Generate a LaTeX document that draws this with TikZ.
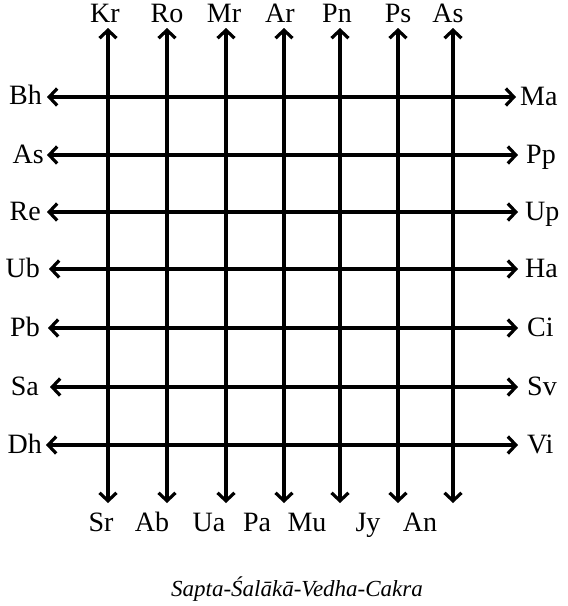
\documentclass[tikz,border=0pt]{standalone}
\usepackage{fontspec}
\setmainfont{Liberation Serif}
\usetikzlibrary{arrows.meta}

\begin{document}
\begin{tikzpicture}[x=1pt, y=-1pt]
    % Define styles
    \tikzstyle{rod}=[line width=3.2pt, >={Straight Barb[length=8pt, width=17pt]}, <->]
    \tikzstyle{rodname}=[font=\fontsize{28}{32}\selectfont, inner sep=0pt]
    \tikzstyle{knot}=[fill=black]

    \useasboundingbox (0,0) rectangle (568,606);

    % Top ends of the vertical rods
    \node[rodname, anchor=base] (Kr) at (105,22) {Kr};
    \node[rodname, anchor=base] (Ro) at (167,22) {Ro};
    \node[rodname, anchor=base] (Mr) at (224,22) {Mr};
    \node[rodname, anchor=base] (Ar) at (280,22) {Ar};
    \node[rodname, anchor=base] (Pn) at (337,22) {Pn};
    \node[rodname, anchor=base] (Ps) at (398,22) {Ps};
    \node[rodname, anchor=base] (As-top) at (448,22) {As};

    \coordinate (Kr-end) at (108,28);
    \coordinate (Ro-end) at (167,28);
    \coordinate (Mr-end) at (226,28);
    \coordinate (Ar-end) at (284,28);
    \coordinate (Pn-end) at (340,28);
    \coordinate (Ps-end) at (398,28);
    \coordinate (As-top-end) at (453,28);

    % Bottom ends of the vertical rods
    \node[rodname, anchor=base] (Sr) at (101,531) {Sr};
    \node[rodname, anchor=base] (Ab) at (152,531) {Ab};
    \node[rodname, anchor=base] (Ua) at (209,531) {Ua};
    \node[rodname, anchor=base] (Pa) at (257,531) {Pa};
    \node[rodname, anchor=base] (Mu) at (307,531) {Mu};
    \node[rodname, anchor=base] (Jy) at (368,531) {Jy};
    \node[rodname, anchor=base] (An) at (420,531) {An};

    \coordinate (Sr-end) at (108,503);
    \coordinate (Ab-end) at (167,503);
    \coordinate (Ua-end) at (226,503);
    \coordinate (Pa-end) at (284,503);
    \coordinate (Mu-end) at (340,503);
    \coordinate (Jy-end) at (398,503);
    \coordinate (An-end) at (453,503);

    % Left ends of the horizontal rods
    \node[rodname, anchor=base east] (Bh) at (42,104) {Bh};
    \node[rodname, anchor=base east] (As-left) at (44,163) {As};
    \node[rodname, anchor=base east] (Re) at (41,220) {Re};
    \node[rodname, anchor=base east] (Ub) at (40,277) {Ub};
    \node[rodname, anchor=base east] (Pb) at (40,336) {Pb};
    \node[rodname, anchor=base east] (Sa) at (39,395) {Sa};
    \node[rodname, anchor=base east] (Dh) at (42,453) {Dh};

    \coordinate (Bh-end) at (47,97);
    \coordinate (As-left-end) at (47,155);
    \coordinate (Re-end) at (47,212);
    \coordinate (Ub-end) at (49,269);
    \coordinate (Pb-end) at (48,328);
    \coordinate (Sa-end) at (50,387);
    \coordinate (Dh-end) at (46,445);

    % Right ends of the horizontal rods
    \node[rodname, anchor=base west] (Ma) at (520,105) {Ma};
    \node[rodname, anchor=base west] (Pp) at (526,163) {Pp};
    \node[rodname, anchor=base west] (Up) at (525,220) {Up};
    \node[rodname, anchor=base west] (Ha) at (525,277) {Ha};
    \node[rodname, anchor=base west] (Ci) at (527,336) {Ci};
    \node[rodname, anchor=base west] (Sv) at (527,395) {Sv};
    \node[rodname, anchor=base west] (Vi) at (527,453) {Vi};

    \coordinate (Ma-end) at (516,97);
    \coordinate (Pp-end) at (518,155);
    \coordinate (Up-end) at (518,212);
    \coordinate (Ha-end) at (518,269);
    \coordinate (Ci-end) at (518,328);
    \coordinate (Sv-end) at (518,387);
    \coordinate (Vi-end) at (518,445);

    % Vertical rods
    \draw[rod] (Kr-end) -- (Sr-end);
    \draw[rod] (Ro-end) -- (Ab-end);
    \draw[rod] (Mr-end) -- (Ua-end);
    \draw[rod] (Ar-end) -- (Pa-end);
    \draw[rod] (Pn-end) -- (Mu-end);
    \draw[rod] (Ps-end) -- (Jy-end);
    \draw[rod] (As-top-end) -- (An-end);

    % Horizontal rods
    \draw[rod] (Bh-end) -- (Ma-end);
    \draw[rod] (As-left-end) -- (Pp-end);
    \draw[rod] (Re-end) -- (Up-end);
    \draw[rod] (Ub-end) -- (Ha-end);
    \draw[rod] (Pb-end) -- (Ci-end);
    \draw[rod] (Sa-end) -- (Sv-end);
    \draw[rod] (Dh-end) -- (Vi-end);

    % Crossing points
    \foreach \x in {108,167,226,284,340,398,453}
        \foreach \y in {97,155,212,269,328,387,445}
            \fill[knot] (\x,\y) circle (2.8pt);

    % Caption
    \node[font=\fontsize{23}{27}\selectfont\itshape, inner sep=0pt, anchor=base] (caption) at (297,596) {Sapta-Śalākā-Vedha-Cakra};
\end{tikzpicture}
\end{document}
